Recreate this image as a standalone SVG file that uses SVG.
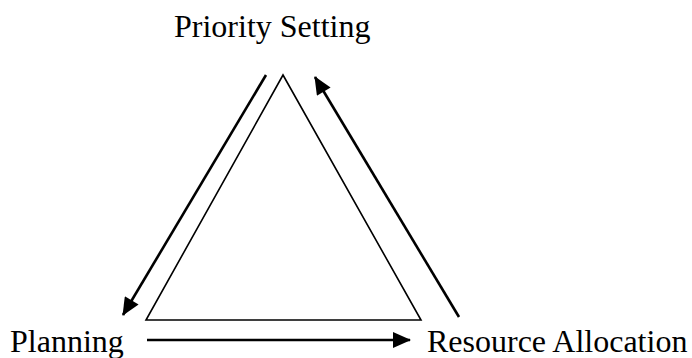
<svg xmlns="http://www.w3.org/2000/svg" width="692" height="358" viewBox="0 0 692 358">
<style>
.lbl{font-family:"Liberation Serif","Times New Roman",serif;font-size:32px;fill:#000}
.tri{fill:none;stroke:#000;stroke-width:1.6}
.arr{fill:none;stroke:#000;stroke-width:2.6}
</style>
<defs>
<marker id="ah" markerUnits="userSpaceOnUse" markerWidth="20" markerHeight="16" viewBox="0 0 18 16" refX="17" refY="8" orient="auto">
<path d="M0,0 L18,8 L0,16 Z" fill="#000"/>
</marker>
</defs>
<rect width="692" height="358" fill="#fff"/>
<g id="triangle"><polygon class="tri" points="283,75 146,320 421,320"/></g>
<g id="priority-setting"><text class="lbl" x="174" y="37">Priority Setting</text></g>
<g id="planning"><text class="lbl" x="10" y="352">Planning</text></g>
<g id="resource-allocation"><text class="lbl" x="427" y="352">Resource Allocation</text></g>
<g id="connectors">
<line class="arr" x1="266" y1="75" x2="123" y2="315" marker-end="url(#ah)"/>
<line class="arr" x1="147" y1="340" x2="410" y2="340" marker-end="url(#ah)"/>
<line class="arr" x1="459" y1="317" x2="315" y2="77" marker-end="url(#ah)"/>
</g>
</svg>
